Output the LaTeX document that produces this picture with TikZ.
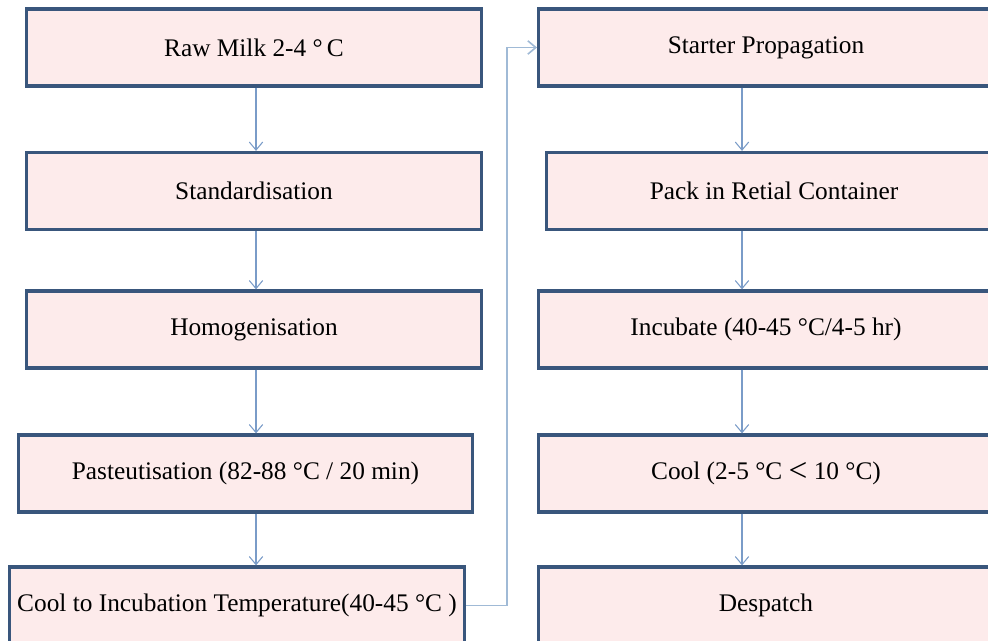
\documentclass[tikz,border=0pt]{standalone}
\usepackage{fontspec}
\setmainfont{Liberation Serif}
\usetikzlibrary{arrows.meta, positioning, calc}
\definecolor{BoxFill}{RGB}{253, 235, 235}
\definecolor{BoxEdge}{RGB}{57, 86, 124}
\definecolor{FlowBlue}{RGB}{122, 156, 200}
\definecolor{LoopBlue}{RGB}{160, 186, 214}

\begin{document}
\begin{tikzpicture}[x=0.75pt, y=-0.75pt,
        stepbox/.style={draw=BoxEdge, fill=BoxFill, line width=2.4pt, inner sep=0pt,
            minimum width=341pt, minimum height=57.75pt, font=\fontsize{19}{22}\selectfont},
        flow/.style={draw=FlowBlue, line width=0.8pt, -{Straight Barb[length=6pt, width=10pt]}}]
        \useasboundingbox (0,0) rectangle (988,641);

        % left column
        \node[stepbox] (raw) at (254,47.5) {Raw Milk 2-4 °\,C};
        \node[stepbox] (std) at (254,191) {Standardisation};
        \node[stepbox] (homo) at (254,329.5) {Homogenisation};
        \node[stepbox] (past) at (245.5,473.5) {Pasteutisation (82-88 °C / 20 min)};
        \node[stepbox] (coolinc) at (237,605.5) {Cool to Incubation Temperature(40-45 °C )};

        % right column
        \node[stepbox] (start) at (766,47.5) {Starter Propagation};
        \node[stepbox] (pack) at (774,191) {Pack in Retial Container};
        \node[stepbox] (incub) at (766,329.5) {Incubate (40-45 °C/4-5 hr)};
        \node[stepbox] (coolb) at (766,473.5) {Cool (2-5 °C \smash{\raisebox{-1.5pt}{\fontsize{25}{25}\selectfont<}} 10 °C)};
        \node[stepbox] (desp) at (766,605.5) {Despatch};

        \coordinate (lx) at (256,0);
        \coordinate (rx) at (742,0);

        \draw[flow] (raw.south -| lx) -- (std.north -| lx);
        \draw[flow] (std.south -| lx) -- (homo.north -| lx);
        \draw[flow] (homo.south -| lx) -- (past.north -| lx);
        \draw[flow] (past.south -| lx) -- (coolinc.north -| lx);

        \draw[flow] (start.south -| rx) -- (pack.north -| rx);
        \draw[flow] (pack.south -| rx) -- (incub.north -| rx);
        \draw[flow] (incub.south -| rx) -- (coolb.north -| rx);
        \draw[flow] (coolb.south -| rx) -- (desp.north -| rx);

        % over to the second column
        \draw[flow, draw=LoopBlue, line width=1.2pt] (coolinc.east) -- ++(41,0) |- (start.west);
    \end{tikzpicture}
\end{document}
